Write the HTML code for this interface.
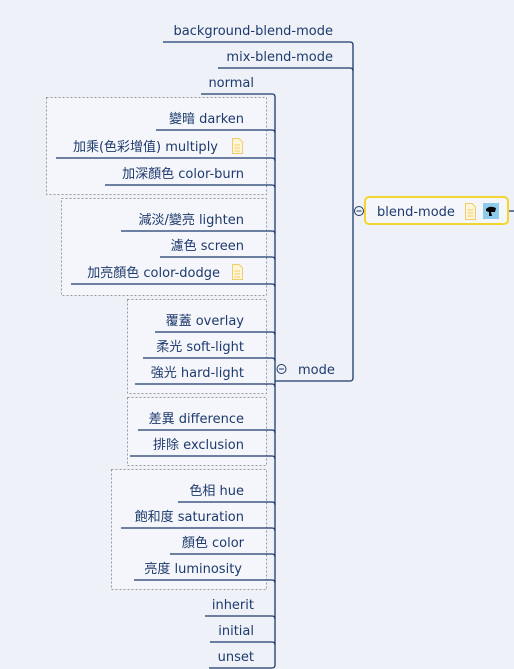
<!DOCTYPE html>
<html><head><meta charset="utf-8"><style>
html,body{margin:0;padding:0;background:#eff1f8;}
svg{display:block}
text{font-family:"DejaVu Sans","Noto Sans CJK TC",sans-serif;font-size:13px;fill:#1d3a6c;}
</style></head><body>
<svg width="514" height="669" viewBox="0 0 514 669" xmlns="http://www.w3.org/2000/svg">
<g fill="#f5f6fb" stroke="#999" stroke-dasharray="2,2" stroke-width="1">
<rect x="46.5" y="97.5" width="220" height="97"/>
<rect x="61.5" y="198.5" width="205" height="97"/>
<rect x="127.5" y="299.5" width="139" height="94"/>
<rect x="127.5" y="397.5" width="139" height="68"/>
<rect x="111.5" y="469.5" width="155" height="120"/>
</g>
<g fill="none" stroke="#1d3a6c" stroke-width="1.3">
<path d="M163 42 H350 Q353 42 353 45 V378 Q353 381 350 381 H275"/>
<path d="M218 68 H350 Q353 68 353 71"/>
<path d="M201 94 H272 Q275 94 275 97 V665 Q275 668 272 668 H209"/>
<path d="M156 130 H272 Q275 130 275 133"/>
<path d="M56 158 H272 Q275 158 275 161"/>
<path d="M105 185 H272 Q275 185 275 188"/>
<path d="M121 231 H272 Q275 231 275 234"/>
<path d="M160 257 H272 Q275 257 275 260"/>
<path d="M71 284 H272 Q275 284 275 287"/>
<path d="M155 332 H272 Q275 332 275 335"/>
<path d="M143 358 H272 Q275 358 275 361"/>
<path d="M135 384 H272 Q275 384 275 387"/>
<path d="M138 430 H272 Q275 430 275 433"/>
<path d="M130 456 H272 Q275 456 275 459"/>
<path d="M178 502 H272 Q275 502 275 505"/>
<path d="M121 528 H272 Q275 528 275 531"/>
<path d="M170 554 H272 Q275 554 275 557"/>
<path d="M134 580 H272 Q275 580 275 583"/>
<path d="M205 616 H272 Q275 616 275 619"/>
<path d="M210 642 H272 Q275 642 275 645"/>
<path d="M508 211 H514"/>
</g>
<g fill="#eff1f8" stroke="#1d3a6c" stroke-width="1">
<circle cx="359" cy="211" r="4.5"/><path d="M356.5 211 H361.5"/>
<circle cx="281.5" cy="369" r="4.5"/><path d="M279 369 H284"/>
</g>
<rect x="365" y="197" width="143" height="27" rx="4" fill="#f5f6fb" stroke="#f2d52e" stroke-width="2"/>
<text x="377" y="216">blend-mode</text>
<g stroke="#f0cc6a" fill="#fff6d8" stroke-width="1"><path d="M465.5 203.5 H472 L475.5 207 V219.5 H465.5 Z"/><path d="M467.5 210 H473 M467.5 213 H473 M467.5 216 H473"/></g>
<rect x="483" y="203" width="16" height="16" fill="#8ccbea"/>
<path d="M486 209 Q490 205 496 208 L495 212 L491 212 L492 216 L489 216 L489 212 L486 211 Z" fill="#000"/>
<g text-anchor="end">
<text x="333" y="35">background-blend-mode</text>
<text x="333" y="61">mix-blend-mode</text>
<text x="254" y="87">normal</text>
<text x="244" y="123">變暗 darken</text>
<text x="218" y="151">加乘(色彩增值) multiply</text>
<text x="244" y="178">加深顏色 color-burn</text>
<text x="244" y="224">減淡/變亮 lighten</text>
<text x="244" y="250">濾色 screen</text>
<text x="220" y="277">加亮顏色 color-dodge</text>
<text x="244" y="325">覆蓋 overlay</text>
<text x="244" y="351">柔光 soft-light</text>
<text x="244" y="377">強光 hard-light</text>
<text x="244" y="423">差異 difference</text>
<text x="244" y="449">排除 exclusion</text>
<text x="244" y="495">色相 hue</text>
<text x="244" y="521">飽和度 saturation</text>
<text x="244" y="547">顏色 color</text>
<text x="242" y="573">亮度 luminosity</text>
<text x="254" y="609">inherit</text>
<text x="254" y="635">initial</text>
<text x="254" y="661">unset</text>
</g>
<text x="298" y="374">mode</text>
<g stroke="#f0cc6a" fill="#fff6d8" stroke-width="1">
<path d="M232.5 138.5 H239 L242.5 142 V153.5 H232.5 Z"/><path d="M234.5 145 H240 M234.5 148 H240 M234.5 151 H240"/>
<path d="M232.5 264.5 H239 L242.5 268 V279.5 H232.5 Z"/><path d="M234.5 271 H240 M234.5 274 H240 M234.5 277 H240"/>
</g>
</svg>
</body></html>
